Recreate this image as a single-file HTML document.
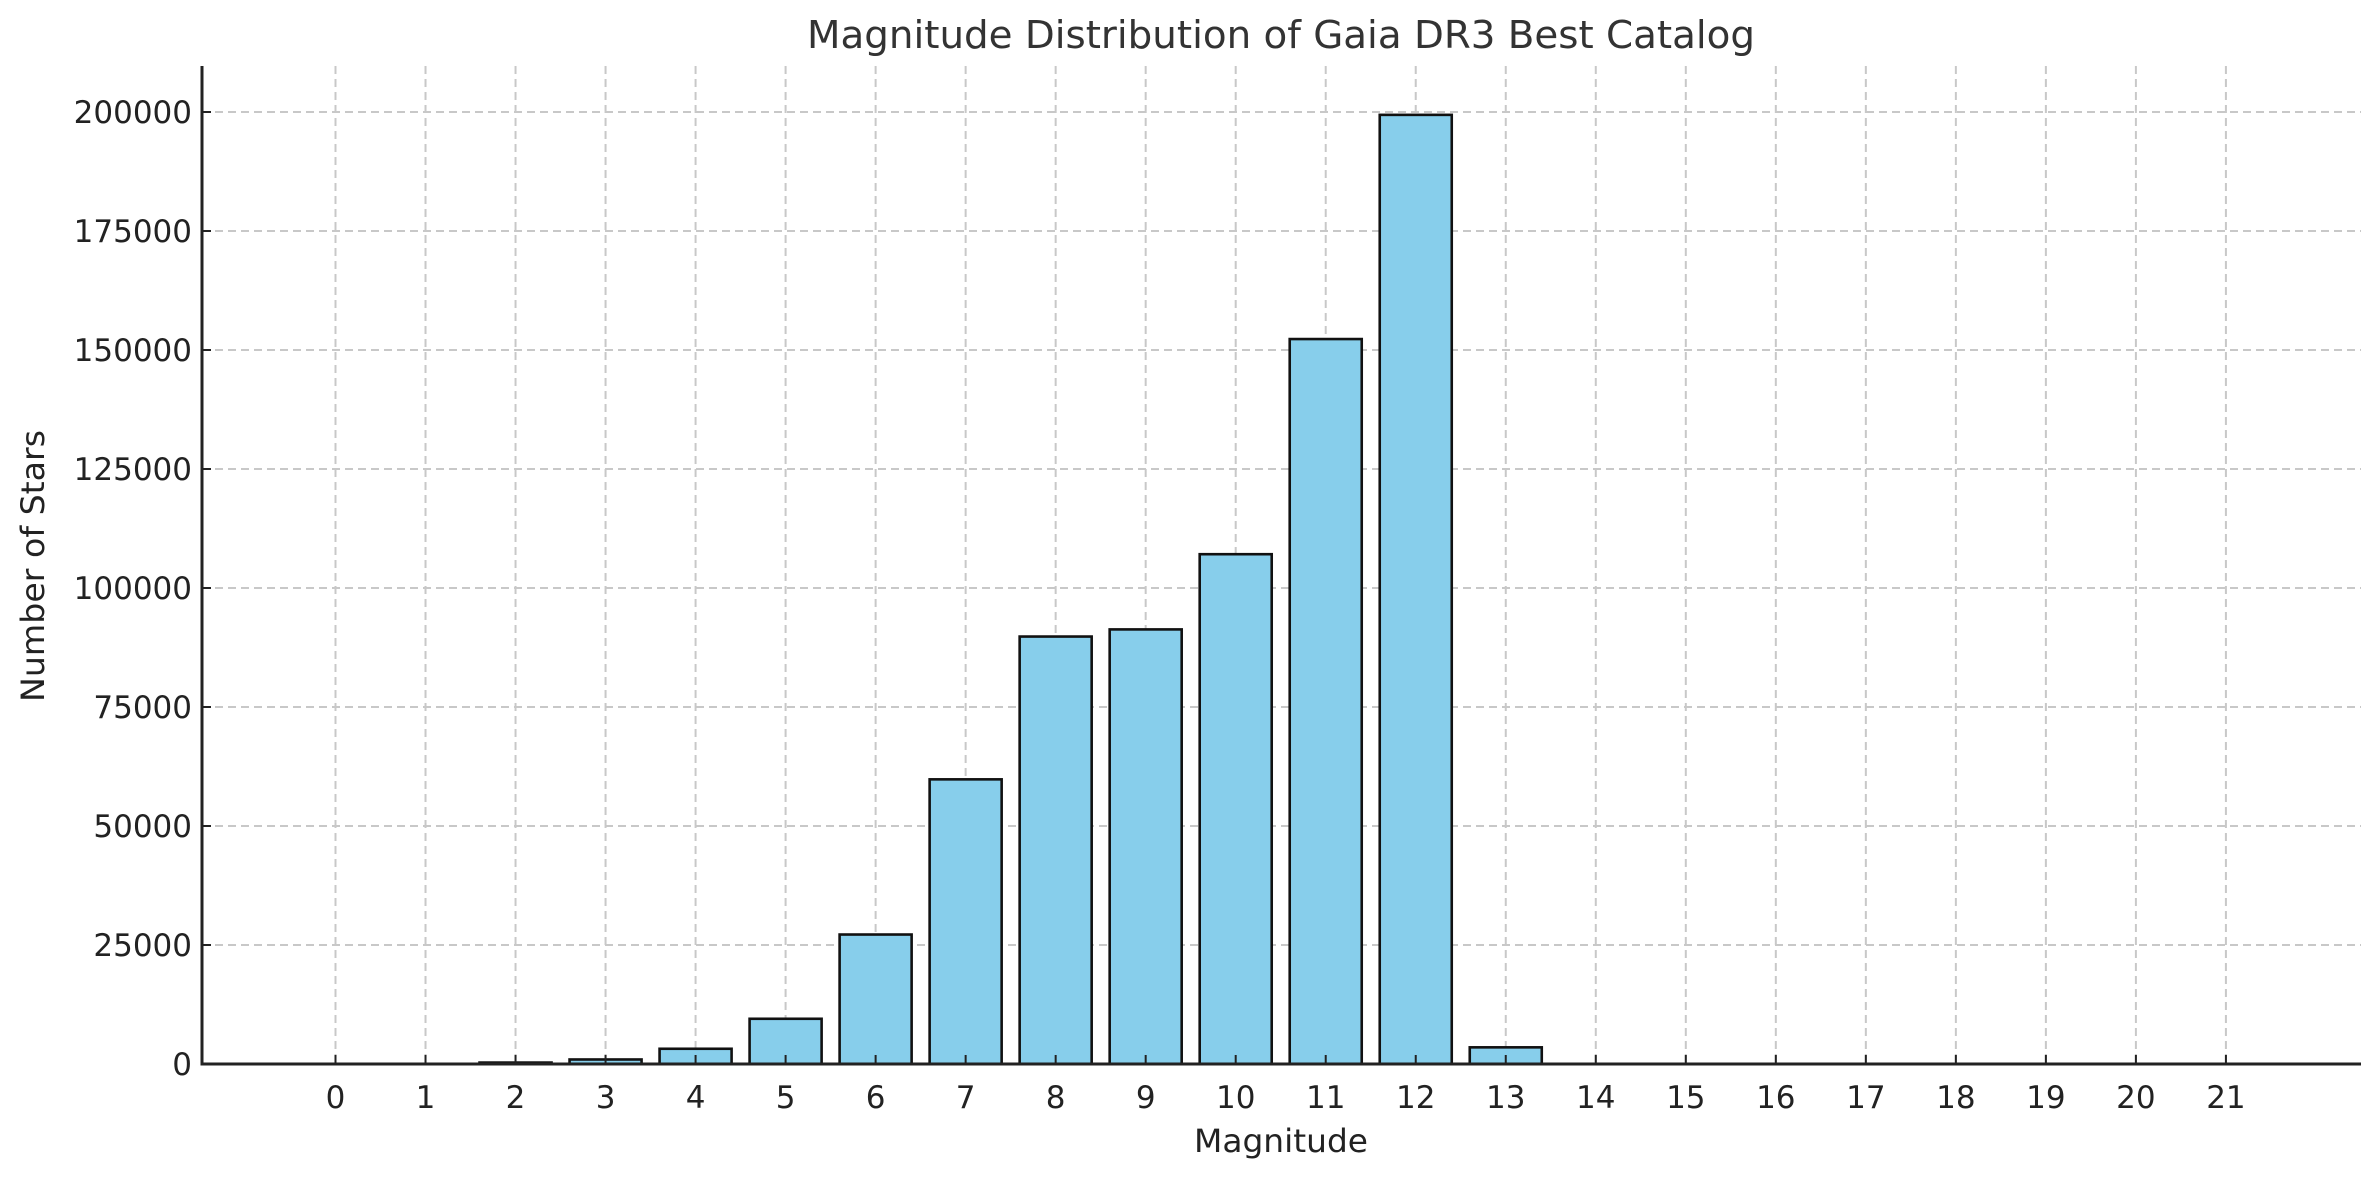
<!DOCTYPE html>
<html><head><meta charset="utf-8"><style>
html,body{margin:0;padding:0;background:#fff;}
svg{display:block;font-family:"DejaVu Sans","Liberation Sans",sans-serif;}
</style></head><body>
<svg id="chart" width="2379" height="1180" viewBox="0 0 2379 1180" xmlns="http://www.w3.org/2000/svg">
<rect width="2379" height="1180" fill="#fff"/>
<g id="grid"></g>
<g id="bars"></g>
<g id="axes"></g>
<text x="1281" y="48" text-anchor="middle" font-size="38" fill="#333" textLength="948" lengthAdjust="spacingAndGlyphs">Magnitude Distribution of Gaia DR3 Best Catalog</text>
<text x="1281" y="1152" text-anchor="middle" font-size="32" fill="#222" textLength="174" lengthAdjust="spacingAndGlyphs">Magnitude</text>
<text transform="translate(44,566) rotate(-90)" text-anchor="middle" font-size="32" fill="#222" textLength="272" lengthAdjust="spacingAndGlyphs">Number of Stars</text>
</svg>
<script>
const categories = [0,1,2,3,4,5,6,7,8,9,10,11,12,13,14,15,16,17,18,19,20,21];
const counts = [0,0,300,950,3200,9500,27200,59800,89800,91300,107100,152300,199400,3500,0,0,0,0,0,0,0,0];
const yTicks = [0,25000,50000,75000,100000,125000,150000,175000,200000];

const NS = "http://www.w3.org/2000/svg";
const plotLeft = 202, plotRight = 2361, plotBottom = 1064, plotTop = 66;
const x0 = 335.5, xStep = 90.02;
const yPerUnit = 119.0 / 25000;
function xScale(v){ return x0 + v * xStep; }
function yScale(v){ return plotBottom - v * yPerUnit; }
function mk(tag, attrs, parent){
  const e = document.createElementNS(NS, tag);
  for (const k in attrs) e.setAttribute(k, attrs[k]);
  parent.appendChild(e);
  return e;
}
const gridG = document.getElementById('grid');
const barsG = document.getElementById('bars');
const axesG = document.getElementById('axes');

categories.forEach(c => {
  const l = mk('line', {x1:xScale(c), x2:xScale(c), y1:plotTop, y2:plotBottom, stroke:'#c8c8c8', 'stroke-width':2, 'stroke-dasharray':'8,5'}, gridG);
  
  
});
yTicks.forEach(t => {
  const l = mk('line', {x1:plotLeft, x2:plotRight, y1:yScale(t), y2:yScale(t), stroke:'#c8c8c8', 'stroke-width':2, 'stroke-dasharray':'8,5'}, gridG);
  
  
});

const bw = 0.8 * xStep;
categories.forEach((c, i) => {
  const v = counts[i];
  const r = mk('rect', {x:xScale(c) - bw/2, y:yScale(v), width:bw, height:Math.max(0, plotBottom - yScale(v)), fill:'#87CEEB', stroke:'#111', 'stroke-width':2.6}, barsG);
  
  
});

const sl = mk('line', {x1:plotLeft, x2:plotLeft, y1:plotTop, y2:plotBottom+1.5, stroke:'#222', 'stroke-width':3}, axesG);


const sb = mk('line', {x1:plotLeft-1.5, x2:plotRight, y1:plotBottom, y2:plotBottom, stroke:'#222', 'stroke-width':3}, axesG);



categories.forEach(c => {
  const t = mk('line', {x1:xScale(c), x2:xScale(c), y1:plotBottom, y2:plotBottom-9, stroke:'#222', 'stroke-width':2}, axesG);
  
  
  const lb = mk('text', {x:xScale(c), y:plotBottom+44, 'text-anchor':'middle', 'font-size':31, fill:'#222'}, axesG);
  lb.textContent = String(c);
  
  
});
yTicks.forEach(v => {
  const t = mk('line', {x1:plotLeft, x2:plotLeft+9, y1:yScale(v), y2:yScale(v), stroke:'#222', 'stroke-width':2}, axesG);
  
  
  const lb = mk('text', {x:plotLeft-10, y:yScale(v)+11, 'text-anchor':'end', 'font-size':31, fill:'#222'}, axesG);
  lb.textContent = String(v);
  
  
});
</script>
</body></html>
